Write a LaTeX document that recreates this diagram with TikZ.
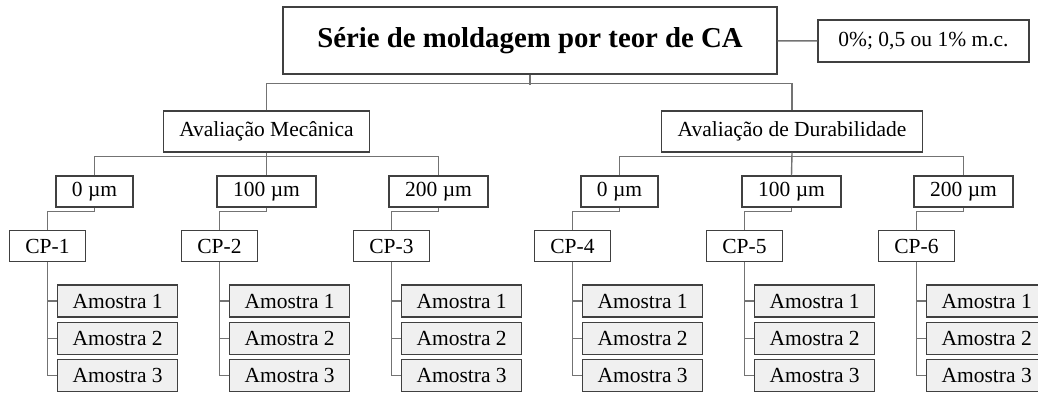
\documentclass[tikz,border=0pt]{standalone}
\usepackage{fontspec}
\setmainfont{Liberation Serif}
\usetikzlibrary{positioning}
\tikzstyle{caixa} = [draw=black!75, line width=1.3pt, fill=white, inner xsep=16pt, inner ysep=0pt, minimum height=31pt, font=\fontsize{21.5}{24}\selectfont]
\tikzstyle{amostra} = [caixa, fill=black!6, minimum width=120pt, minimum height=32pt, inner xsep=0pt]
\tikzstyle{ligacao} = [draw=black!55, line width=1.4pt]

\begin{document}
\begin{tikzpicture}[x=1pt,y=-1pt]
  \useasboundingbox (0,0) rectangle (1038,392);
  \node[caixa, minimum width=494pt, minimum height=67pt, font=\fontsize{28.8}{32}\selectfont\bfseries] (Serie) at (530,40.5) {Série de moldagem por teor de CA};
  \node[caixa, minimum width=211pt, minimum height=42pt] (Teor) at (923.5,41) {0\%; 0,5 ou 1\% m.c.};
  \node[caixa, minimum height=41pt] (Mecanica) at (266.5,131.5) {Avaliação Mecânica};
  \node[caixa, minimum height=41pt] (Durabilidade) at (792,131.5) {Avaliação de Durabilidade};

  \draw[ligacao] (Serie) -- (Teor);
  \draw[ligacao] (Serie.south) -- ++(0,10);
  \draw[ligacao] (Mecanica.north) -- ++(0,-27) -| (Durabilidade.north);

  \foreach \i/\x/\esp in {1/94.5/0, 2/266.5/100, 3/438.5/200, 4/619.5/0, 5/791.5/100, 6/963.5/200} {
    \node[caixa] (Esp\i) at (\x,191.5) {\esp\ µm};
    \node[caixa, minimum width=75pt] (CP\i) at (\x-47,246) {CP-\i};
    \node[amostra, anchor=west] (A\i1) at (\x-37.5,301) {Amostra 1};
    \node[amostra, below=4pt of A\i1] (A\i2) {Amostra 2};
    \node[amostra, below=4pt of A\i2] (A\i3) {Amostra 3};
    \draw[ligacao] (Esp\i.south) -- ++(0,4) -| (CP\i.north);
    \draw[ligacao] (CP\i.south) |- (A\i3.west);
    \draw[ligacao] (CP\i.south |- A\i1.west) -- (A\i1.west);
    \draw[ligacao] (CP\i.south |- A\i2.west) -- (A\i2.west);
  }

  \draw[ligacao] (Esp1.north) -- ++(0,-19) -| (Esp3.north);
  \draw[ligacao] (Mecanica.south) -- (Esp2.north);
  \draw[ligacao] (Esp4.north) -- ++(0,-19) -| (Esp6.north);
  \draw[ligacao] (Durabilidade.south) -- (Esp5.north);
\end{tikzpicture}
\end{document}
